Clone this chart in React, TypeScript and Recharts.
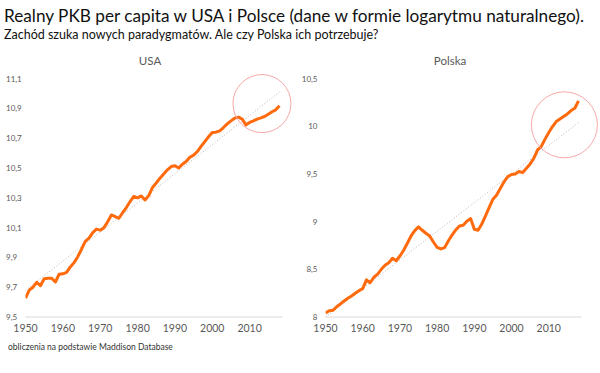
import React from "react";
import { LineChart, Line, XAxis, YAxis, ReferenceDot } from "recharts";

const years = [
  1950, 1951, 1952, 1953, 1954, 1955, 1956, 1957, 1958, 1959,
  1960, 1961, 1962, 1963, 1964, 1965, 1966, 1967, 1968, 1969,
  1970, 1971, 1972, 1973, 1974, 1975, 1976, 1977, 1978, 1979,
  1980, 1981, 1982, 1983, 1984, 1985, 1986, 1987, 1988, 1989,
  1990, 1991, 1992, 1993, 1994, 1995, 1996, 1997, 1998, 1999,
  2000, 2001, 2002, 2003, 2004, 2005, 2006, 2007, 2008, 2009,
  2010, 2011, 2012, 2013, 2014, 2015, 2016, 2017, 2018,
];

const usa = [
  9.626, 9.68, 9.7, 9.733, 9.71, 9.757, 9.76, 9.76, 9.735, 9.787,
  9.79, 9.8, 9.836, 9.865, 9.905, 9.955, 10.008, 10.03, 10.067, 10.09,
  10.083, 10.1, 10.14, 10.185, 10.174, 10.163, 10.2, 10.235, 10.275, 10.31,
  10.3, 10.313, 10.286, 10.315, 10.37, 10.4, 10.432, 10.46, 10.488, 10.51,
  10.515, 10.5, 10.526, 10.544, 10.573, 10.587, 10.611, 10.645, 10.678, 10.71,
  10.739, 10.741, 10.75, 10.772, 10.797, 10.817, 10.835, 10.842, 10.829, 10.79,
  10.806, 10.817, 10.829, 10.837, 10.846, 10.862, 10.878, 10.891, 10.918,
];

const polska = [
  8.042, 8.066, 8.07, 8.108, 8.137, 8.168, 8.196, 8.22, 8.249, 8.276,
  8.297, 8.389, 8.36, 8.417, 8.45, 8.5, 8.543, 8.57, 8.616, 8.59,
  8.64, 8.7, 8.774, 8.85, 8.906, 8.945, 8.91, 8.879, 8.85, 8.787,
  8.73, 8.714, 8.728, 8.798, 8.86, 8.913, 8.955, 8.962, 9.005, 9.033,
  8.92, 8.91, 8.975, 9.06, 9.15, 9.236, 9.28, 9.35, 9.42, 9.473,
  9.495, 9.5, 9.526, 9.515, 9.56, 9.606, 9.666, 9.753, 9.79, 9.866,
  9.935, 9.998, 10.05, 10.076, 10.103, 10.13, 10.166, 10.19, 10.268,
];

// trend lines: only the two end points, joined
const usaTrend = [9.68, 11.01];
const polskaTrend = [8.0, 10.04];

const xTicks = [1950, 1960, 1970, 1980, 1990, 2000, 2010];
const usaTicks = [9.5, 9.7, 9.9, 10.1, 10.3, 10.5, 10.7, 10.9, 11.1];
const polskaTicks = [8, 8.5, 9, 9.5, 10, 10.5];

const usaCircle = { year: 2013.3, value: 10.933 };
const polskaCircle = { year: 2014.2, value: 10.016 };

const ORANGE = "#ff6a0d";
const FONT = "Lato, 'Open Sans', sans-serif";

function build(values: number[], trend: number[]) {
  return years.map((y, i) => ({
    year: y,
    v: values[i],
    t: i === 0 ? trend[0] : i === years.length - 1 ? trend[1] : null,
  }));
}

const comma = (v: number) => String(v).replace(".", ",");

function LeftTick(props: any) {
  const { y, payload } = props;
  return (
    <text x={6} y={y} dy={3} textAnchor="start" fontSize={8} fill="#595959" fontFamily={FONT}>
      {comma(payload.value)}
    </text>
  );
}

function Panel({ title, data, ticks, domain, circle, r, leftTicks, right }: any) {
  return (
    <div style={{ position: "relative", width: 300, height: 373 }}>
      <div
        style={{
          position: "absolute", top: 54, left: 0, width: 300, textAlign: "center",
          fontSize: 11.5, color: "#595959", fontFamily: FONT,
        }}
      >
        {title}
      </div>
      <LineChart
        width={300}
        height={373}
        data={data}
        margin={{ top: 78.7, right: right, left: 0.5, bottom: 36 }}
      >
        <XAxis
          dataKey="year"
          type="number"
          domain={[1950, 2018.8]}
          ticks={xTicks}
          allowDataOverflow
          tickLine={false}
          axisLine={{ stroke: "#d9d9d9" }}
          tick={{ fontSize: 10.5, fill: "#595959", fontFamily: FONT }}
          height={20}
        />
        <YAxis
          domain={domain}
          ticks={ticks}
          allowDataOverflow
          width={25}
          axisLine={false}
          tickLine={false}
          tick={leftTicks ? <LeftTick /> : { fontSize: 8, fill: "#595959", fontFamily: FONT }}
          tickFormatter={comma}
        />
        <Line
          dataKey="t"
          connectNulls
          stroke="#b8b8b8"
          strokeWidth={1}
          strokeDasharray="1 2"
          dot={false}
          isAnimationActive={false}
        />
        <Line
          dataKey="v"
          stroke={ORANGE}
          strokeWidth={3}
          dot={false}
          strokeLinejoin="round"
          isAnimationActive={false}
        />
        <ReferenceDot
          x={circle.year}
          y={circle.value}
          r={r}
          fill="none"
          stroke="#f7a9a9"
          strokeWidth={1}
        />
      </LineChart>
    </div>
  );
}

export default function App() {
  const usaData = build(usa, usaTrend);
  const polskaData = build(polska, polskaTrend);
  return (
    <div
      style={{
        position: "absolute", left: 0, top: 0, width: 600, height: 373,
        background: "#fff", fontFamily: FONT, overflow: "hidden",
      }}
    >
      <div style={{ position: "absolute", left: 4, top: 5, fontSize: 17.2, color: "#111", whiteSpace: "nowrap" }}>
        Realny PKB per capita w USA i Polsce (dane w formie logarytmu naturalnego).
      </div>
      <div style={{ position: "absolute", left: 4, top: 27, fontSize: 12.5, color: "#111", whiteSpace: "nowrap" }}>
        Zachód szuka nowych paradygmatów. Ale czy Polska ich potrzebuje?
      </div>
      <div style={{ position: "absolute", left: 0, top: 0 }}>
        <Panel
          title="USA"
          data={usaData}
          ticks={usaTicks}
          domain={[9.5, 11.1]}
          circle={usaCircle}
          r={29}
          leftTicks
          right={17.5}
        />
      </div>
      <div style={{ position: "absolute", left: 300, top: 0 }}>
        <Panel
          title="Polska"
          data={polskaData}
          ticks={polskaTicks}
          domain={[8, 10.5]}
          circle={polskaCircle}
          r={33}
          right={18.5}
        />
      </div>
      <div style={{ position: "absolute", left: 8, top: 342, fontSize: 8.5, color: "#333", whiteSpace: "nowrap" }}>
        obliczenia na podstawie Maddison Database
      </div>
    </div>
  );
}
